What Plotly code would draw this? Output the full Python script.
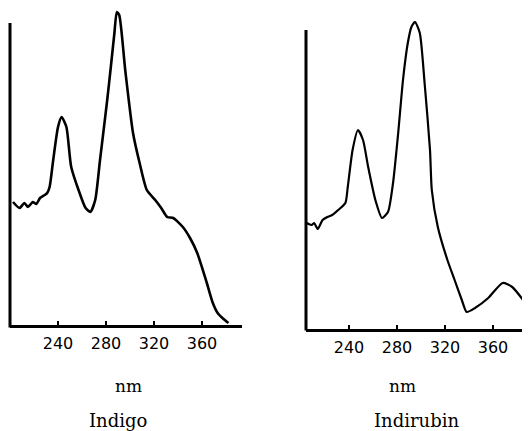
import plotly.graph_objects as go

# Indigo spectrum (wavelength nm, relative absorbance, arbitrary units)
indigo_nm = [202.5, 208, 212, 215, 219, 222, 225, 229, 231, 233, 236, 240, 243, 247, 251, 258, 263, 267,
             271, 275, 281, 284, 287, 289, 291, 296, 302.5, 308, 314, 321, 326, 331, 336, 344, 350, 356,
             364, 369, 373, 377, 382]
indigo_a = [1.23, 1.17, 1.22, 1.18, 1.23, 1.21, 1.27, 1.30, 1.32, 1.38, 1.65, 1.98, 2.08, 1.98, 1.58, 1.32,
            1.17, 1.13, 1.25, 1.65, 2.25, 2.58, 2.92, 3.13, 3.10, 2.55, 1.92, 1.62, 1.35, 1.25, 1.17, 1.08,
            1.07, 0.98, 0.87, 0.72, 0.42, 0.22, 0.12, 0.07, 0.02]

# Indirubin spectrum
indirubin_nm = [204.8, 208.9, 211, 214, 218, 222, 226, 231, 237, 239, 243, 247.5, 251.7, 256, 262, 267.5,
                272.5, 276.7, 281, 285, 289, 292, 295, 299, 303, 307.5, 309, 314, 322, 328, 334, 338, 345,
                356, 368, 376, 385]
indirubin_a = [1.06, 1.04, 1.06, 1.00, 1.09, 1.12, 1.14, 1.19, 1.26, 1.42, 1.79, 1.99, 1.89, 1.62, 1.29,
               1.11, 1.17, 1.46, 1.96, 2.49, 2.86, 3.02, 3.07, 2.96, 2.46, 1.79, 1.39, 1.02, 0.69, 0.49,
               0.29, 0.17, 0.21, 0.31, 0.46, 0.42, 0.29]

tick_vals = [240, 280, 320, 360]
tick_text = ["240", "280", "320", "360"]
panel_names = ["Indigo", "Indirubin"]

W, H = 522, 423  # page body has an 8px margin

fig = go.Figure()
fig.add_trace(go.Scatter(x=indigo_nm, y=indigo_a, mode="lines",
                         line=dict(color="black", width=2.6, shape="spline", smoothing=0.6),
                         xaxis="x", yaxis="y", showlegend=False, hoverinfo="skip"))
fig.add_trace(go.Scatter(x=indirubin_nm, y=indirubin_a, mode="lines",
                         line=dict(color="black", width=2.2, shape="spline", smoothing=0.6),
                         xaxis="x2", yaxis="y2", showlegend=False, hoverinfo="skip"))

tickfont = dict(family="DejaVu Sans", size=16, color="black")
xcommon = dict(showline=True, linecolor="black", linewidth=3, ticks="inside", ticklen=4, tickwidth=2,
               tickcolor="black", tickvals=tick_vals, ticktext=tick_text, tickfont=tickfont,
               ticklabelstandoff=2, showgrid=False, zeroline=False, fixedrange=True)

serif = "DejaVu Serif"
ann = dict(xref="paper", yref="paper", showarrow=False, xanchor="center", yanchor="middle")
fig.update_layout(
    width=W, height=H,
    margin=dict(l=0, r=0, t=2, b=102),
    paper_bgcolor="white", plot_bgcolor="white",
    xaxis=dict(domain=[2/W, 234/W], range=[200, 393.3], anchor="y", **xcommon),
    yaxis=dict(domain=[4/319, 1], range=[0, 3.15], visible=False, anchor="x"),
    xaxis2=dict(domain=[298/W, 1], range=[204.2, 390.8], anchor="y2", **xcommon),
    yaxis2=dict(domain=[0, 1], range=[0, 3.19], visible=False, anchor="x2"),
    shapes=[
        dict(type="line", xref="x domain", yref="y domain", x0=0, x1=0, y0=-0.008, y1=0.959,
             line=dict(color="black", width=3)),
        dict(type="line", xref="x2 domain", yref="y2 domain", x0=0, x1=0, y0=-0.005, y1=0.937,
             line=dict(color="black", width=3)),
    ],
    annotations=[
        dict(text="nm", x=120/W, y=-0.1787, font=dict(family=serif, size=17, color="black"), **ann),
        dict(text="nm", x=394/W, y=-0.1787, font=dict(family=serif, size=17, color="black"), **ann),
        dict(text=panel_names[0], x=110/W, y=-0.2853, font=dict(family=serif, size=18, color="black"), **ann),
        dict(text=panel_names[1], x=408/W, y=-0.2853, font=dict(family=serif, size=18, color="black"), **ann),
    ],
)

fig.write_html("out.html")
